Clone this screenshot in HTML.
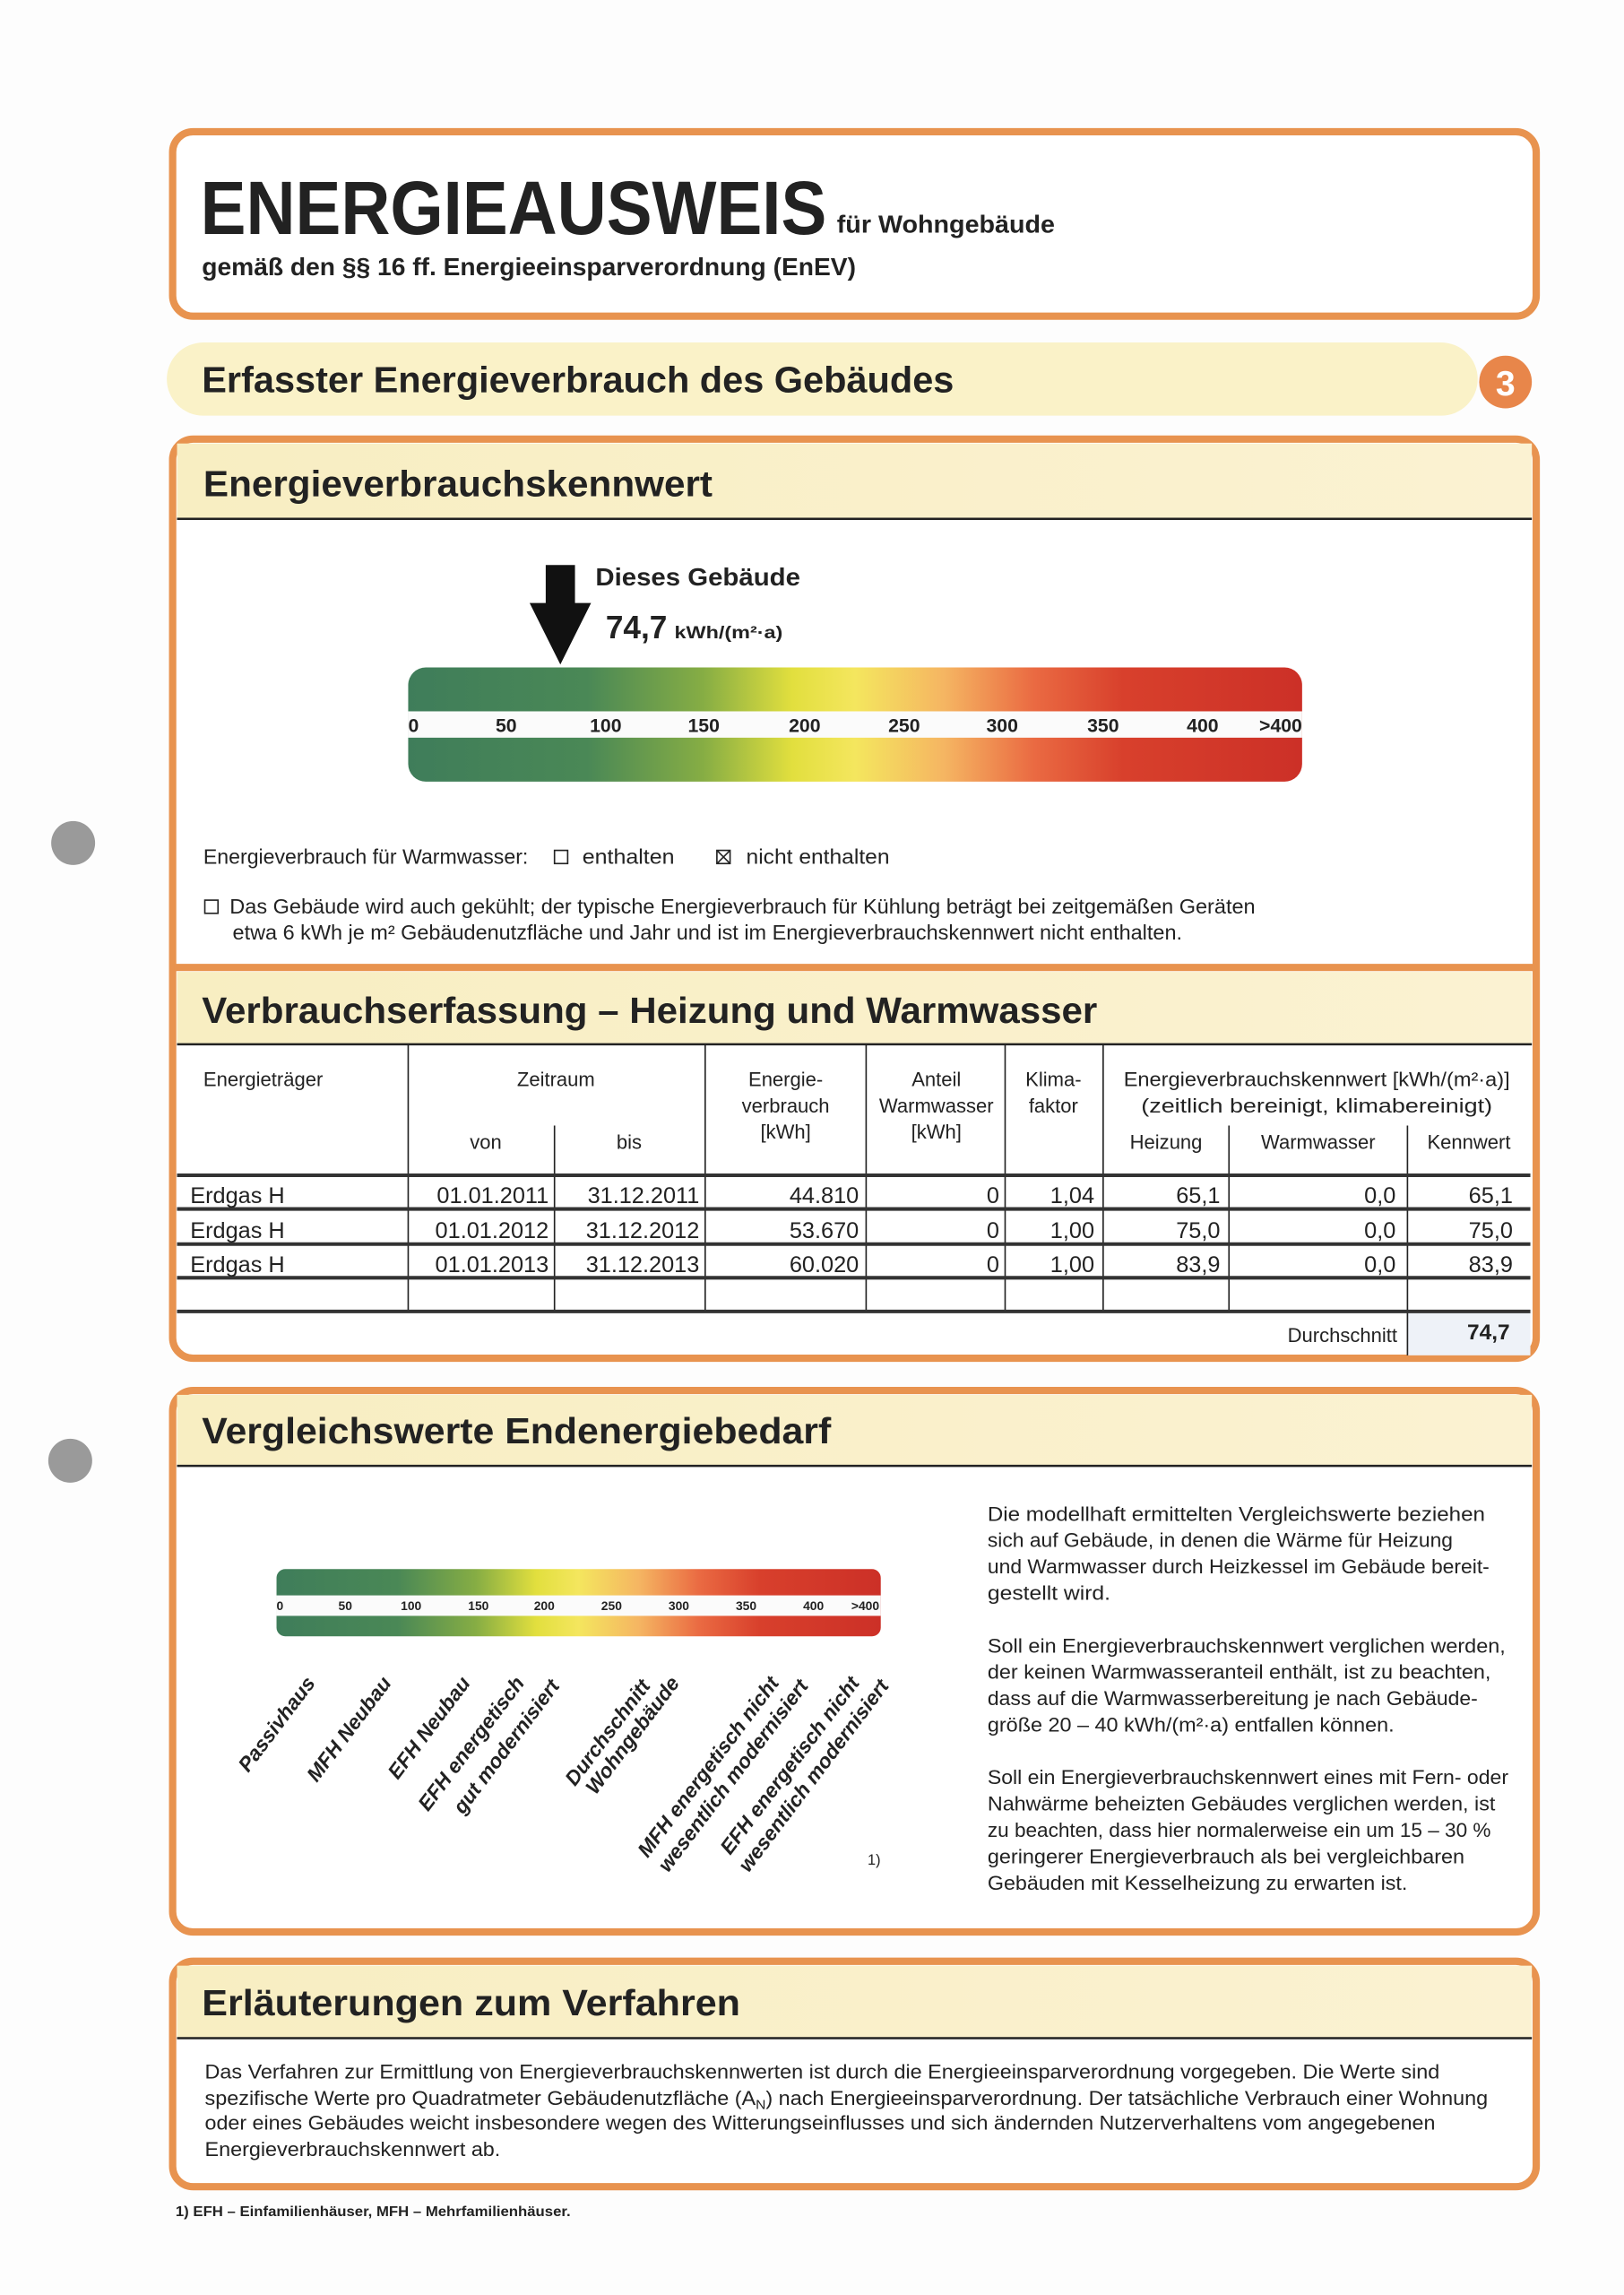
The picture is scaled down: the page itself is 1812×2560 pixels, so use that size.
<!DOCTYPE html>
<html><head><meta charset="utf-8"><style>
html,body{margin:0;padding:0;background:#fdfdfd;width:1812px;height:2560px;overflow:hidden}
svg{display:block}
text{font-family:"Liberation Sans",sans-serif;fill:#222}
.b{font-weight:bold}
</style></head><body>
<svg width="1812" height="2560" viewBox="0 0 1110 1568" preserveAspectRatio="none">
<defs>
<linearGradient id="sc" x1="0" x2="1" y1="0" y2="0">
<stop offset="0" stop-color="#3f7d5a"/><stop offset="0.2" stop-color="#4a8856"/><stop offset="0.33" stop-color="#86ad44"/><stop offset="0.43" stop-color="#e2df3e"/><stop offset="0.5" stop-color="#f4e65e"/><stop offset="0.6" stop-color="#f5b562"/><stop offset="0.7" stop-color="#ea6a42"/><stop offset="0.8" stop-color="#d8402c"/><stop offset="1" stop-color="#cc3027"/>
</linearGradient>
<linearGradient id="yb" x1="0" x2="1"><stop offset="0" stop-color="#f8eec2"/><stop offset="1" stop-color="#fbf2d2"/></linearGradient>
</defs>
<rect width="1110" height="1568" fill="#fdfdfd"/>
<circle cx="50" cy="576" r="15" fill="#9a9a9a"/>
<circle cx="48" cy="998" r="15" fill="#9a9a9a"/>

<!-- Box 1 -->
<rect x="118" y="90" width="932" height="126" rx="14" fill="#fff" stroke="#e8934f" stroke-width="5"/>
<text x="137" y="160" class="b" font-size="52" textLength="428" lengthAdjust="spacingAndGlyphs">ENERGIEAUSWEIS</text>
<text x="572" y="159" class="b" font-size="17" textLength="149" lengthAdjust="spacingAndGlyphs">für Wohngebäude</text>
<text x="138" y="188" class="b" font-size="17" textLength="447" lengthAdjust="spacingAndGlyphs">gemäß den §§ 16 ff. Energieeinsparverordnung (EnEV)</text>

<!-- Header bar -->
<rect x="114" y="234" width="896" height="50" rx="25" fill="#faf2c8"/>
<text x="138" y="268" class="b" font-size="25" textLength="514" lengthAdjust="spacingAndGlyphs">Erfasster Energieverbrauch des Gebäudes</text>
<circle cx="1029" cy="261" r="18" fill="#e8864a"/>
<text x="1029" y="270" class="b" font-size="24" text-anchor="middle" style="fill:#fff">3</text>

<!-- Box 2+3 -->
<rect x="118" y="300" width="932" height="628" rx="14" fill="#fff" stroke="#e8934f" stroke-width="5"/>
<rect x="121" y="303" width="926" height="51" fill="url(#yb)"/>
<line x1="121" y1="354.5" x2="1047" y2="354.5" stroke="#222" stroke-width="1.5"/>
<text x="139" y="339" class="b" font-size="25" textLength="348" lengthAdjust="spacingAndGlyphs">Energieverbrauchskennwert</text>

<!-- arrow -->
<polygon points="373,386 393,386 393,412 404,412 383,454 362,412 373,412" fill="#111"/>
<text x="407" y="400" class="b" font-size="17" textLength="140" lengthAdjust="spacingAndGlyphs">Dieses Gebäude</text>
<text x="414" y="436" class="b" font-size="22" textLength="42" lengthAdjust="spacingAndGlyphs">74,7</text>
<text x="461" y="436" class="b" font-size="12" textLength="74" lengthAdjust="spacingAndGlyphs">kWh/(m²·a)</text>

<!-- scale bar -->
<rect x="279" y="456" width="611" height="78" rx="12" fill="url(#sc)"/>
<rect x="279" y="486" width="611" height="18" fill="#fbfbfb"/>
<g class="b" font-size="13" font-weight="bold">
<text x="279" y="500">0</text><text x="346" y="500" text-anchor="middle">50</text><text x="414" y="500" text-anchor="middle">100</text><text x="481" y="500" text-anchor="middle">150</text><text x="550" y="500" text-anchor="middle">200</text><text x="618" y="500" text-anchor="middle">250</text><text x="685" y="500" text-anchor="middle">300</text><text x="754" y="500" text-anchor="middle">350</text><text x="822" y="500" text-anchor="middle">400</text><text x="890" y="500" text-anchor="end">&gt;400</text>
</g>

<g font-size="14">
<text x="139" y="590" textLength="222" lengthAdjust="spacingAndGlyphs">Energieverbrauch für Warmwasser:</text>
<rect x="379" y="581" width="9" height="9" fill="none" stroke="#222" stroke-width="1"/>
<text x="398" y="590" textLength="63" lengthAdjust="spacingAndGlyphs">enthalten</text>
<rect x="490" y="581" width="9" height="9" fill="none" stroke="#222" stroke-width="1"/>
<path d="M490,581 L499,590 M499,581 L490,590" stroke="#222" stroke-width="1"/>
<text x="510" y="590" textLength="98" lengthAdjust="spacingAndGlyphs">nicht enthalten</text>
<rect x="140" y="615" width="9" height="9" fill="none" stroke="#222" stroke-width="1"/>
<text x="157" y="624" textLength="701" lengthAdjust="spacingAndGlyphs">Das Gebäude wird auch gekühlt; der typische Energieverbrauch für Kühlung beträgt bei zeitgemäßen Geräten</text>
<text x="159" y="642" textLength="649" lengthAdjust="spacingAndGlyphs">etwa 6 kWh je m² Gebäudenutzfläche und Jahr und ist im Energieverbrauchskennwert nicht enthalten.</text>
</g>

<!-- Section 3 -->
<line x1="119" y1="661" x2="1049" y2="661" stroke="#e8934f" stroke-width="5"/>
<rect x="121" y="664" width="926" height="49" fill="url(#yb)"/>
<line x1="121" y1="713.5" x2="1047" y2="713.5" stroke="#222" stroke-width="1.5"/>
<text x="138" y="699" class="b" font-size="25" textLength="612" lengthAdjust="spacingAndGlyphs">Verbrauchserfassung – Heizung und Warmwasser</text>

<rect x="962" y="896" width="84" height="30" fill="#eef2f8"/>
<g stroke="#222" stroke-width="1">
<line x1="279" y1="714" x2="279" y2="896"/>
<line x1="379" y1="769" x2="379" y2="896"/>
<line x1="482" y1="714" x2="482" y2="896"/>
<line x1="592" y1="714" x2="592" y2="896"/>
<line x1="687" y1="714" x2="687" y2="896"/>
<line x1="754" y1="714" x2="754" y2="896"/>
<line x1="840" y1="769" x2="840" y2="896"/>
<line x1="962" y1="769" x2="962" y2="926"/>
</g>
<g stroke="#333" stroke-width="2.5">
<line x1="121" y1="803" x2="1046" y2="803"/>
<line x1="121" y1="826" x2="1046" y2="826"/>
<line x1="121" y1="850" x2="1046" y2="850"/>
<line x1="121" y1="873" x2="1046" y2="873"/>
<line x1="121" y1="896" x2="1046" y2="896"/>
</g>
<g font-size="13.5">
<text x="139" y="742">Energieträger</text>
<text x="380" y="742" text-anchor="middle">Zeitraum</text>
<text x="332" y="785" text-anchor="middle">von</text>
<text x="430" y="785" text-anchor="middle">bis</text>
<text x="537" y="742" text-anchor="middle">Energie-</text>
<text x="537" y="760" text-anchor="middle">verbrauch</text>
<text x="537" y="778" text-anchor="middle">[kWh]</text>
<text x="640" y="742" text-anchor="middle">Anteil</text>
<text x="640" y="760" text-anchor="middle">Warmwasser</text>
<text x="640" y="778" text-anchor="middle">[kWh]</text>
<text x="720" y="742" text-anchor="middle">Klima-</text>
<text x="720" y="760" text-anchor="middle">faktor</text>
<text x="900" y="742" text-anchor="middle" textLength="264" lengthAdjust="spacingAndGlyphs">Energieverbrauchskennwert [kWh/(m²·a)]</text>
<text x="900" y="760" text-anchor="middle" textLength="240" lengthAdjust="spacingAndGlyphs">(zeitlich bereinigt, klimabereinigt)</text>
<text x="797" y="785" text-anchor="middle">Heizung</text>
<text x="901" y="785" text-anchor="middle">Warmwasser</text>
<text x="1004" y="785" text-anchor="middle">Kennwert</text>
</g>
<g font-size="15.5">
<text x="130" y="822">Erdgas H</text><text x="130" y="846">Erdgas H</text><text x="130" y="869">Erdgas H</text>
<g text-anchor="end">
<text x="375" y="822">01.01.2011</text><text x="478" y="822">31.12.2011</text><text x="587" y="822">44.810</text><text x="683" y="822">0</text><text x="748" y="822">1,04</text><text x="834" y="822">65,1</text><text x="954" y="822">0,0</text><text x="1034" y="822">65,1</text>
<text x="375" y="846">01.01.2012</text><text x="478" y="846">31.12.2012</text><text x="587" y="846">53.670</text><text x="683" y="846">0</text><text x="748" y="846">1,00</text><text x="834" y="846">75,0</text><text x="954" y="846">0,0</text><text x="1034" y="846">75,0</text>
<text x="375" y="869">01.01.2013</text><text x="478" y="869">31.12.2013</text><text x="587" y="869">60.020</text><text x="683" y="869">0</text><text x="748" y="869">1,00</text><text x="834" y="869">83,9</text><text x="954" y="869">0,0</text><text x="1034" y="869">83,9</text>
</g>
</g>
<text x="955" y="917" font-size="13.5" text-anchor="end">Durchschnitt</text>
<text x="1032" y="915" font-size="15" class="b" text-anchor="end">74,7</text>

<!-- Box 4 -->
<rect x="118" y="950" width="932" height="370" rx="14" fill="#fff" stroke="#e8934f" stroke-width="5"/>
<rect x="121" y="953" width="926" height="48" fill="url(#yb)"/>
<line x1="121" y1="1001.5" x2="1047" y2="1001.5" stroke="#222" stroke-width="1.5"/>
<text x="138" y="986" class="b" font-size="25" textLength="430" lengthAdjust="spacingAndGlyphs">Vergleichswerte Endenergiebedarf</text>

<rect x="189" y="1072" width="413" height="46" rx="6" fill="url(#sc)"/>
<rect x="189" y="1090" width="413" height="14" fill="#fbfbfb"/>
<g font-size="8.5" font-weight="bold">
<text x="189" y="1100">0</text><text x="236" y="1100" text-anchor="middle">50</text><text x="281" y="1100" text-anchor="middle">100</text><text x="327" y="1100" text-anchor="middle">150</text><text x="372" y="1100" text-anchor="middle">200</text><text x="418" y="1100" text-anchor="middle">250</text><text x="464" y="1100" text-anchor="middle">300</text><text x="510" y="1100" text-anchor="middle">350</text><text x="556" y="1100" text-anchor="middle">400</text><text x="601" y="1100" text-anchor="end">&gt;400</text>
</g>
<g font-size="14" font-weight="bold" font-style="italic" text-anchor="end">
<text transform="translate(216,1150) rotate(-53)">Passivhaus</text>
<text transform="translate(268,1150) rotate(-53)">MFH Neubau</text>
<text transform="translate(322,1150) rotate(-53)">EFH Neubau</text>
<text transform="translate(359,1150) rotate(-53)">EFH energetisch</text>
<text transform="translate(383,1152) rotate(-53)">gut modernisiert</text>
<text transform="translate(445,1152) rotate(-53)">Durchschnitt</text>
<text transform="translate(465,1150) rotate(-53)">Wohngebäude</text>
<text transform="translate(533,1150) rotate(-53)">MFH energetisch nicht</text>
<text transform="translate(553,1152) rotate(-53)">wesentlich modernisiert</text>
<text transform="translate(588,1150) rotate(-53)">EFH energetisch nicht</text>
<text transform="translate(608,1152) rotate(-53)">wesentlich modernisiert</text>
</g>
<text x="593" y="1274" font-size="10">1)</text>

<g font-size="13.5">
<text x="675" y="1039" textLength="340" lengthAdjust="spacingAndGlyphs">Die modellhaft ermittelten Vergleichswerte beziehen</text>
<text x="675" y="1057" textLength="318" lengthAdjust="spacingAndGlyphs">sich auf Gebäude, in denen die Wärme für Heizung</text>
<text x="675" y="1075" textLength="343" lengthAdjust="spacingAndGlyphs">und Warmwasser durch Heizkessel im Gebäude bereit-</text>
<text x="675" y="1093" textLength="84" lengthAdjust="spacingAndGlyphs">gestellt wird.</text>
<text x="675" y="1129" textLength="354" lengthAdjust="spacingAndGlyphs">Soll ein Energieverbrauchskennwert verglichen werden,</text>
<text x="675" y="1147" textLength="344" lengthAdjust="spacingAndGlyphs">der keinen Warmwasseranteil enthält, ist zu beachten,</text>
<text x="675" y="1165" textLength="335" lengthAdjust="spacingAndGlyphs">dass auf die Warmwasserbereitung je nach Gebäude-</text>
<text x="675" y="1183" textLength="278" lengthAdjust="spacingAndGlyphs">größe 20 – 40 kWh/(m²·a) entfallen können.</text>
<text x="675" y="1219" textLength="356" lengthAdjust="spacingAndGlyphs">Soll ein Energieverbrauchskennwert eines mit Fern- oder</text>
<text x="675" y="1237" textLength="347" lengthAdjust="spacingAndGlyphs">Nahwärme beheizten Gebäudes verglichen werden, ist</text>
<text x="675" y="1255" textLength="344" lengthAdjust="spacingAndGlyphs">zu beachten, dass hier normalerweise ein um 15 – 30 %</text>
<text x="675" y="1273" textLength="326" lengthAdjust="spacingAndGlyphs">geringerer Energieverbrauch als bei vergleichbaren</text>
<text x="675" y="1291" textLength="287" lengthAdjust="spacingAndGlyphs">Gebäuden mit Kesselheizung zu erwarten ist.</text>
</g>

<!-- Box 5 -->
<rect x="118" y="1340" width="932" height="154" rx="14" fill="#fff" stroke="#e8934f" stroke-width="5"/>
<rect x="121" y="1343" width="926" height="49" fill="url(#yb)"/>
<line x1="121" y1="1392.5" x2="1047" y2="1392.5" stroke="#222" stroke-width="1.5"/>
<text x="138" y="1377" class="b" font-size="25" textLength="368" lengthAdjust="spacingAndGlyphs">Erläuterungen zum Verfahren</text>
<g font-size="13.5">
<text x="140" y="1420" textLength="844" lengthAdjust="spacingAndGlyphs">Das Verfahren zur Ermittlung von Energieverbrauchskennwerten ist durch die Energieeinsparverordnung vorgegeben. Die Werte sind</text>
<text x="140" y="1438" textLength="877" lengthAdjust="spacingAndGlyphs">spezifische Werte pro Quadratmeter Gebäudenutzfläche (A<tspan font-size="9" dy="3">N</tspan><tspan dy="-3">) nach Energieeinsparverordnung. Der tatsächliche Verbrauch einer Wohnung</tspan></text>
<text x="140" y="1455" textLength="841" lengthAdjust="spacingAndGlyphs">oder eines Gebäudes weicht insbesondere wegen des Witterungseinflusses und sich ändernden Nutzerverhaltens vom angegebenen</text>
<text x="140" y="1473" textLength="202" lengthAdjust="spacingAndGlyphs">Energieverbrauchskennwert ab.</text>
</g>
<text x="120" y="1514" font-size="9.5" class="b" textLength="270" lengthAdjust="spacingAndGlyphs">1) EFH – Einfamilienhäuser, MFH – Mehrfamilienhäuser.</text>
</svg>
</body></html>
